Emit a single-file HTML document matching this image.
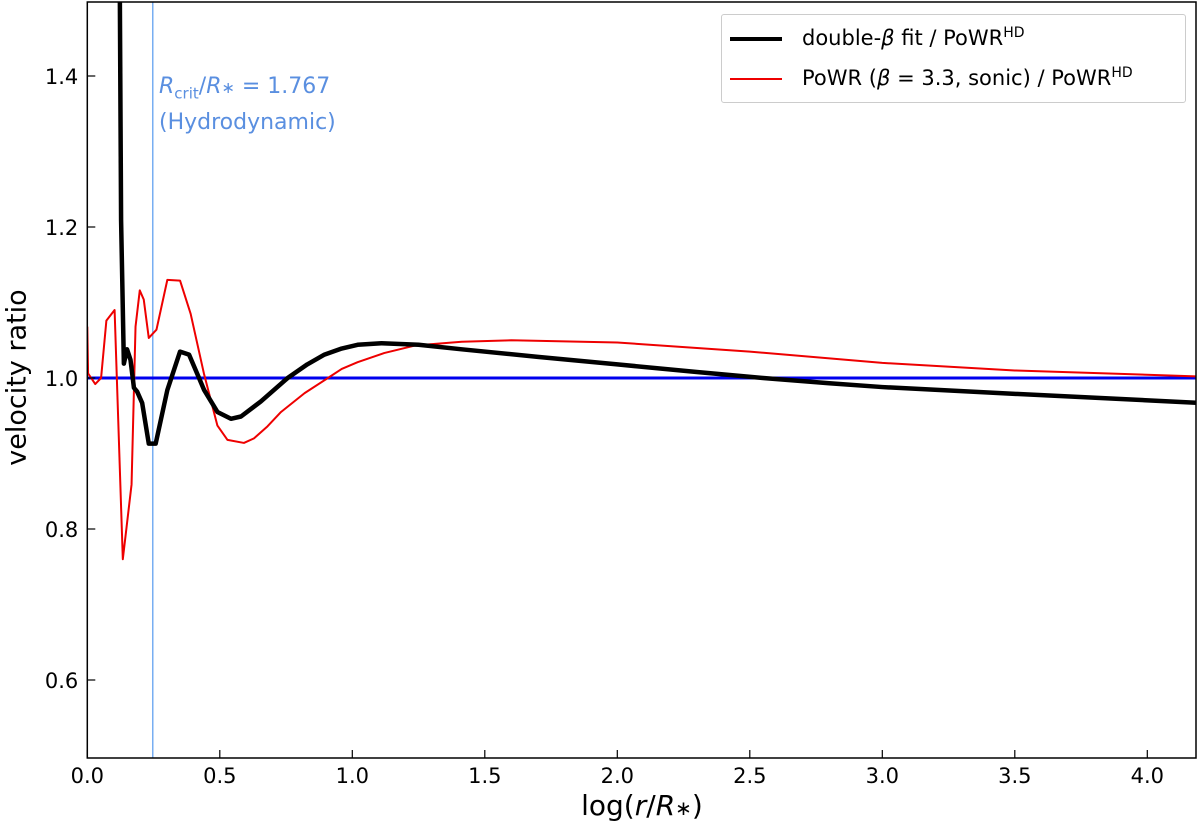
<!DOCTYPE html>
<html><head><meta charset="utf-8"><style>
html,body{margin:0;padding:0;background:#fff;}
svg{display:block;font-family:"DejaVu Sans","Liberation Sans",sans-serif;}
</style></head><body>
<svg id="chart" width="1200" height="829" viewBox="0 0 1200 829">
<g id="plot"></g>
</svg>
<script>
const xTicks=[0,0.5,1.0,1.5,2.0,2.5,3.0,3.5,4.0];
const xTickLabels=["0.0","0.5","1.0","1.5","2.0","2.5","3.0","3.5","4.0"];
const yTicks=[0.6,0.8,1.0,1.2,1.4];
const yTickLabels=["0.6","0.8","1.0","1.2","1.4"];
const blackX=[0.121,0.1275,0.138,0.150,0.163,0.176,0.188,0.207,0.232,0.258,0.302,0.350,0.384,0.441,0.491,0.542,0.58,0.655,0.756,0.83,0.895,0.96,1.02,1.11,1.25,1.413,1.7,2.0,2.3,2.55,2.8,3.0,3.5,4.2];
const blackY=[1.62,1.209,1.019,1.038,1.024,0.987,0.982,0.967,0.913,0.913,0.984,1.035,1.031,0.984,0.955,0.946,0.949,0.969,1.0,1.018,1.031,1.039,1.044,1.046,1.044,1.038,1.028,1.018,1.008,1.0,0.993,0.988,0.979,0.967];
const redX=[0,0.003,0.03,0.052,0.072,0.103,0.134,0.167,0.182,0.198,0.213,0.232,0.261,0.302,0.350,0.390,0.44,0.491,0.529,0.591,0.629,0.68,0.731,0.82,0.908,0.96,1.02,1.12,1.236,1.413,1.6,2.0,2.5,3.0,3.5,4.2];
const redY=[1.068,1.006,0.992,1.0,1.076,1.090,0.760,0.859,1.068,1.116,1.104,1.053,1.064,1.130,1.129,1.085,1.006,0.937,0.918,0.914,0.92,0.936,0.955,0.98,1.0,1.012,1.021,1.033,1.043,1.048,1.05,1.047,1.035,1.02,1.01,1.002];
const refValue=1.0;
const critX=0.2472;
const L=87.3,R=1196,T=2,B=758;
function X(v){return L+v*265;}
function Y(v){return 378-(v-1)*755;}
const NS="http://www.w3.org/2000/svg";
const svg=document.getElementById('chart');
const g=document.getElementById('plot');
function mk(tag,attrs,parent){const e=document.createElementNS(NS,tag);for(const k in attrs)e.setAttribute(k,attrs[k]);(parent||g).appendChild(e);return e;}
const defs=mk('defs',{},svg);
const cp=mk('clipPath',{id:'clip'},defs);
mk('rect',{x:L,y:T,width:R-L,height:B-T},cp);
const data=mk('g',{'clip-path':'url(#clip)'});


let e;
e=mk('line',{x1:X(critX),x2:X(critX),y1:T,y2:B,stroke:'#5599ee','stroke-width':1.2},data);


e=mk('line',{x1:L,x2:R,y1:Y(refValue),y2:Y(refValue),stroke:'#0000ee','stroke-width':3},data);


e=mk('polyline',{points:redX.map((x,i)=>X(x)+','+Y(redY[i])).join(' '),fill:'none',stroke:'#ee0000','stroke-width':2,'stroke-linejoin':'round'},data);


e=mk('polyline',{points:blackX.map((x,i)=>X(x)+','+Y(blackY[i])).join(' '),fill:'none',stroke:'#000','stroke-width':4.5,'stroke-linejoin':'round'},data);


e=mk('rect',{x:L,y:T,width:R-L,height:B-T,fill:'none',stroke:'#000','stroke-width':1.5});


xTicks.forEach((v,i)=>{
  const t=mk('line',{x1:X(v),x2:X(v),y1:B,y2:B-8,stroke:'#000','stroke-width':1.2});
  
  
  const l=mk('text',{x:X(v),y:B+25,'text-anchor':'middle','font-size':21});
  l.textContent=xTickLabels[i];
  
  
});
yTicks.forEach((v,i)=>{
  const t=mk('line',{x1:L,x2:L+8,y1:Y(v),y2:Y(v),stroke:'#000','stroke-width':1.2});
  
  
  const l=mk('text',{x:L-9,y:Y(v)+8,'text-anchor':'end','font-size':21});
  l.textContent=yTickLabels[i];
  
  
});
</script>
<div style="position:absolute;left:0;top:0;width:1200px;height:829px;pointer-events:none;font-family:'DejaVu Sans','Liberation Sans',sans-serif;">
  <div style="position:absolute;left:0;width:1284px;top:789px;text-align:center;font-size:28px;line-height:34px;">log(<i>r</i>/<i>R</i><span style="font-size:20px">∗</span>)</div>
  <div style="position:absolute;left:-83px;top:362px;width:200px;text-align:center;font-size:27px;transform:rotate(-90deg);">velocity ratio</div>
  <div style="position:absolute;left:159px;top:72px;color:#5a8fe0;font-size:22px;line-height:29px;"><i>R</i><sub style="font-size:15px">crit</sub>/<i>R</i><span style="font-size:16px">∗</span> = 1.767<br>(Hydrodynamic)</div>
  <div style="position:absolute;left:721px;top:14px;width:463px;height:87px;border:1px solid #ccc;border-radius:3px;background:#fff;font-size:21px;">
    <div style="position:absolute;left:8px;top:10px;white-space:nowrap;"><span style="display:inline-block;width:52px;height:4px;background:#000;vertical-align:middle;margin-right:20px;"></span>double-<i>β</i> fit / PoWR<sup style="font-size:14px">HD</sup></div>
    <div style="position:absolute;left:8px;top:50px;white-space:nowrap;"><span style="display:inline-block;width:52px;height:2px;background:#e00;vertical-align:middle;margin-right:20px;"></span>PoWR (<i>β</i> = 3.3, sonic) / PoWR<sup style="font-size:14px">HD</sup></div>
  </div>
</div>
</body></html>
